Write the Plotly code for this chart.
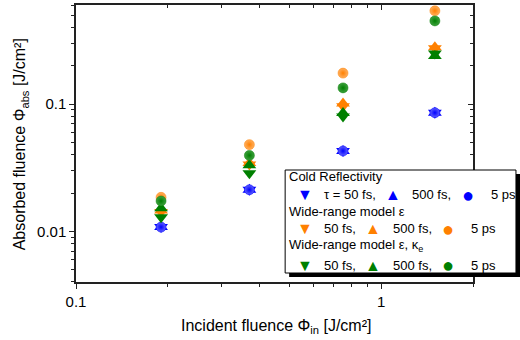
import plotly.graph_objects as go

# ---- data ----
phi_in = [0.19, 0.37, 0.75, 1.5]
cold_50fs = [0.0108, 0.0212, 0.0428, 0.0855]
cold_500fs = [0.0108, 0.0212, 0.0428, 0.0855]
cold_5ps = [0.0108, 0.0212, 0.0428, 0.0855]
wr_50fs = [0.0142, 0.0335, 0.096, 0.274]
wr_500fs = [0.0146, 0.0345, 0.101, 0.280]
wr_5ps = [0.0185, 0.048, 0.175, 0.54]
wrk_50fs = [0.0129, 0.0286, 0.080, 0.250]
wrk_500fs = [0.0152, 0.0330, 0.085, 0.239]
wrk_5ps = [0.0173, 0.0395, 0.134, 0.45]

x_tickvals = [0.1, 1]
x_ticktext = ["0.1", "1"]
x_minor = [0.2, 0.3, 0.4, 0.5, 0.6, 0.7, 0.8, 0.9, 2]
y_tickvals = [0.01, 0.1]
y_ticktext = ["0.01", "0.1"]
y_minor = [0.004, 0.005, 0.006, 0.007, 0.008, 0.009,
           0.02, 0.03, 0.04, 0.05, 0.06, 0.07, 0.08, 0.09,
           0.2, 0.3, 0.4, 0.5, 0.6]

BLUE = "#0000FF"
ORANGE = "#FF8000"
GREEN = "#008000"
FONT = "Liberation Sans, Arial, sans-serif"

fig = go.Figure()

def tri(y, color, symbol, xa="x", ya="y"):
    fig.add_trace(go.Scatter(x=phi_in, y=y, mode="markers", showlegend=False,
                             xaxis=xa, yaxis=ya,
                             marker=dict(symbol=symbol, size=12, color=color,
                                         line=dict(width=0))))

def ball(y, color, light, xa="x", ya="y"):
    fig.add_trace(go.Scatter(x=phi_in, y=y, mode="markers", showlegend=False,
                             xaxis=xa, yaxis=ya,
                             marker=dict(symbol="circle", size=10, color=light,
                                         gradient=dict(type="radial", color=color),
                                         line=dict(width=0.5, color=color))))

tri(cold_50fs, BLUE, "triangle-down")
tri(cold_500fs, BLUE, "triangle-up")
ball(cold_5ps, BLUE, "#6060ff")
tri(wr_50fs, ORANGE, "triangle-down")
tri(wr_500fs, ORANGE, "triangle-up")
ball(wr_5ps, ORANGE, "#ffb060")
tri(wrk_50fs, GREEN, "triangle-down")
# these two series use the mirrored (right / top) axes, which share the same ranges
tri(wrk_500fs, GREEN, "triangle-up", "x", "y2")
ball(wrk_5ps, GREEN, "#40a040", "x2", "y")

xr = [-1, 0.30103]
yr = [-2.398, -0.2218]
axcol = "#222222"

common = dict(type="log", showgrid=False, zeroline=False, automargin=False,
              showline=True, linecolor=axcol, linewidth=1.5, tickcolor=axcol,
              tickwidth=1.2)

fig.update_layout(
    width=520, height=340,
    margin=dict(l=76, r=47, t=5, b=58),
    paper_bgcolor="white", plot_bgcolor="white",
    font=dict(family=FONT, size=15, color="black"),
    xaxis=dict(**common, range=xr, tickvals=x_tickvals, ticktext=x_ticktext,
               ticks="outside", ticklen=5,
               minor=dict(tickvals=x_minor, ticks="outside", ticklen=3,
                          tickcolor=axcol, showgrid=False)),
    yaxis=dict(**common, range=yr, tickvals=y_tickvals, ticktext=y_ticktext,
               ticks="outside", ticklen=5,
               minor=dict(tickvals=y_minor, ticks="outside", ticklen=3,
                          tickcolor=axcol, showgrid=False)),
    xaxis2=dict(**common, range=xr, overlaying="x", side="top", anchor="y",
                tickvals=x_tickvals, showticklabels=False,
                ticks="inside", ticklen=5,
                minor=dict(tickvals=x_minor, ticks="inside", ticklen=3,
                           tickcolor=axcol, showgrid=False)),
    yaxis2=dict(**common, range=yr, overlaying="y", side="right", anchor="x",
                tickvals=y_tickvals, showticklabels=False,
                ticks="inside", ticklen=5,
                minor=dict(tickvals=y_minor, ticks="inside", ticklen=3,
                           tickcolor=axcol, showgrid=False)),
)

# ---- pixel -> paper helpers for layout items ----
L, R = 75.7, 473.0
T, B = 5.0, 282.0
def px(x):
    return (x - L) / (R - L)
def py(y):
    return (B - y) / (B - T)

def txt(x, y, s, color="black", size=13, anchor="left", angle=0):
    fig.add_annotation(xref="paper", yref="paper", x=px(x), y=py(y), text=s,
                       showarrow=False, xanchor=anchor, yanchor="middle",
                       textangle=angle,
                       font=dict(family=FONT, size=size, color=color))

# axis titles
txt(276, 326, "Incident fluence Φ<sub>in</sub> [J/cm²]", size=16, anchor="center")
txt(20, 144, "Absorbed fluence Φ<sub>abs</sub> [J/cm²]", size=16, anchor="center", angle=-90)

# ---- manual legend ----
fig.add_shape(type="rect", xref="paper", yref="paper",
              x0=px(289), x1=px(521), y0=py(174), y1=py(277),
              fillcolor="black", line=dict(width=0), layer="above")
fig.add_shape(type="rect", xref="paper", yref="paper",
              x0=px(285), x1=px(516), y0=py(170), y1=py(273),
              fillcolor="white", line=dict(color="black", width=1), layer="above")

rows = [
    ("Cold Reflectivity", BLUE, "τ = 50 fs,", 176, 194.5, [305, 393, 468], [322, 410, 489]),
    ("Wide-range model ε", ORANGE, "50 fs,", 211.5, 228.5, [305, 373, 448], [322, 391, 469]),
    ("Wide-range model ε, κ<sub>e</sub>", GREEN, "50 fs,", 245, 265, [305, 373, 448], [322, 391, 469]),
]
for head, col, first, yh, yrow, gx, tx in rows:
    txt(287, yh, head)
    txt(gx[0], yrow, "▼", col, 16, "center")
    txt(gx[1], yrow, "▲", col, 16, "center")
    txt(gx[2], yrow, "●", col, 20, "center")
    txt(tx[0], yrow, first)
    txt(tx[1], yrow, "500 fs,")
    txt(tx[2], yrow, "5 ps")

fig.write_html("out.html", config={"displayModeBar": False},
               post_script="document.body.style.margin='0';document.body.style.overflow='hidden';")
